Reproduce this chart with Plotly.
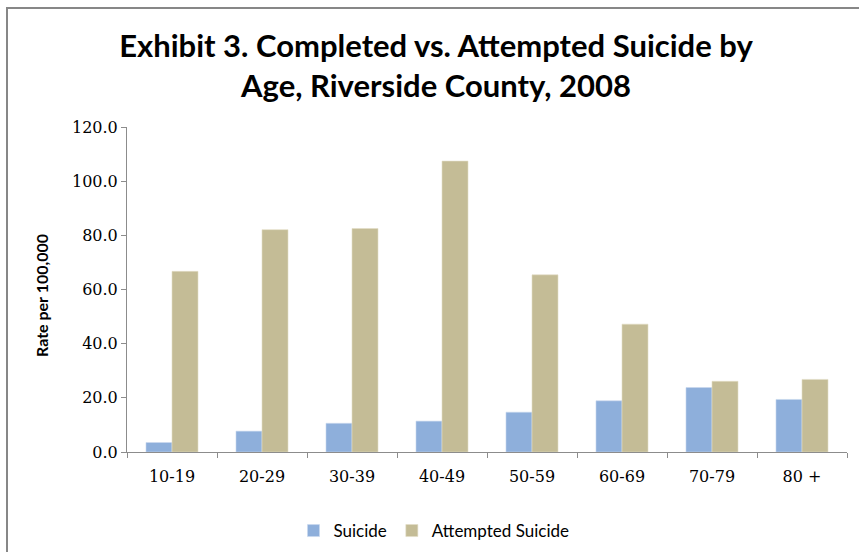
import plotly.graph_objects as go

# Rates per 100,000 by age group, Riverside County, 2008
age_groups = ["10-19", "20-29", "30-39", "40-49", "50-59", "60-69", "70-79", "80 +"]
suicide_rate = [3.5, 7.7, 10.6, 11.4, 14.7, 18.9, 23.8, 19.4]
attempted_rate = [66.7, 82.1, 82.5, 107.4, 65.4, 47.2, 26.1, 26.8]
y_tick_values = [0, 20, 40, 60, 80, 100, 120]
y_tick_labels = ["0.0", "20.0", "40.0", "60.0", "80.0", "100.0", "120.0"]

W, H = 859, 552
L, R, T, B = 127, 12, 127, 100
plot_w = W - L - R
plot_h = H - T - B


def px_x(p):
    return (p - L) / plot_w


def px_y(p):
    return (H - B - p) / plot_h


fig = go.Figure()
fig.add_trace(go.Bar(
    x=age_groups, y=suicide_rate, name="Suicide",
    marker=dict(color="#8EAFDB", line=dict(color="#C9D8EE", width=0.6)),
))
fig.add_trace(go.Bar(
    x=age_groups, y=attempted_rate, name="Attempted Suicide",
    marker=dict(color="#C4BC96", line=dict(color="#E2DDC6", width=0.6)),
))

axis_grey = "#8C8C8C"
frame = dict(color="#878787", width=2)
fig.update_layout(
    width=W, height=H,
    margin=dict(l=L, r=R, t=T, b=B, autoexpand=False),
    paper_bgcolor="white", plot_bgcolor="white",
    barmode="group", bargap=0.422, bargroupgap=0,
    title=dict(
        text="Exhibit 3. Completed vs. Attempted Suicide by<br>Age, Riverside County, 2008",
        font=dict(family="Lato", size=31, color="#000000", weight="bold"),
        x=px_x(436), xref="paper", xanchor="center",
        y=1 - 57 / H, yref="container", yanchor="middle",
    ),
    xaxis=dict(
        showline=True, linecolor=axis_grey, linewidth=1,
        ticks="outside", ticklen=5, tickcolor=axis_grey, tickson="boundaries",
        tickfont=dict(family="DejaVu Serif", size=16, color="#000000"),
        ticklabelstandoff=10,
        showgrid=False, zeroline=False,
    ),
    yaxis=dict(
        range=[0, 120], tickvals=y_tick_values, ticktext=y_tick_labels,
        showline=True, linecolor=axis_grey, linewidth=1,
        ticks="outside", ticklen=5, tickcolor=axis_grey,
        tickfont=dict(family="DejaVu Serif", size=16, color="#000000"),
        showgrid=False, zeroline=False,
    ),
    legend=dict(
        orientation="h", x=px_x(434), xanchor="center",
        y=px_y(531), yanchor="middle",
        font=dict(family="Lato", size=17, color="#000000"),
        itemclick=False,
    ),
    annotations=[dict(
        text="<b>Rate per 100,000</b>", textangle=-90,
        x=px_x(41), y=px_y(296), xref="paper", yref="paper",
        xanchor="center", yanchor="middle", showarrow=False,
        font=dict(family="Lato", size=16, color="#000000"),
    )],
    # chart frame: left and top edges only
    shapes=[
        dict(type="line", xref="paper", yref="paper",
             x0=px_x(7), x1=px_x(7), y0=px_y(H + 5), y1=px_y(8), line=frame),
        dict(type="line", xref="paper", yref="paper",
             x0=px_x(6), x1=px_x(W + 5), y0=px_y(8), y1=px_y(8), line=frame),
    ],
)

fig.write_html("out.html")
